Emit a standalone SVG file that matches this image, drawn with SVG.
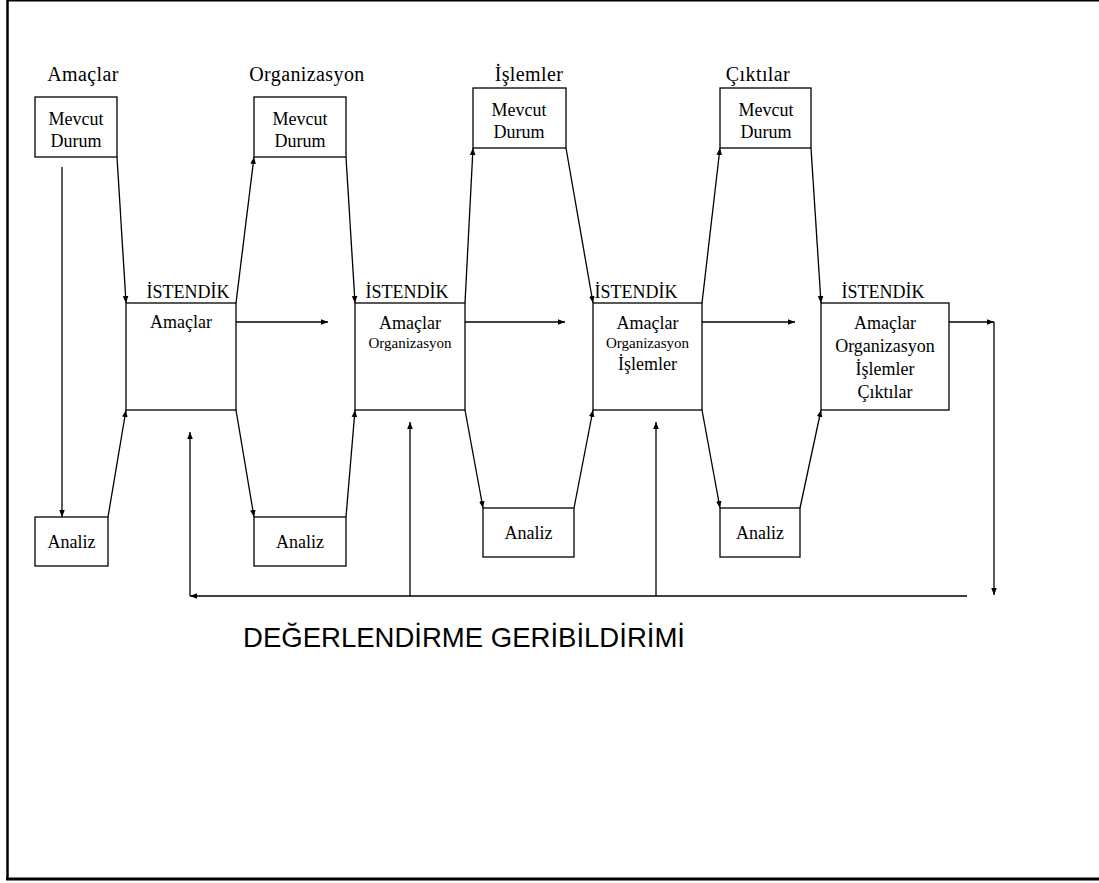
<svg xmlns="http://www.w3.org/2000/svg" width="1099" height="883" viewBox="0 0 1099 883">
<style>
.bx{fill:#fff;stroke:#000;stroke-width:1.3}
.t{font-family:"Liberation Serif","Times New Roman",serif;fill:#000;text-anchor:middle}
.lbl{font-size:20px;letter-spacing:0.4px}
.in{font-size:18px}
.sm{font-size:15px}
.c{stroke:#000;stroke-width:1.3;fill:none}
.big{font-family:"Liberation Sans",Arial,sans-serif;font-size:28px;fill:#000}
</style>
<defs>
<marker id="ah" viewBox="0 0 10 10" refX="10" refY="5" markerWidth="7" markerHeight="7" markerUnits="userSpaceOnUse" orient="auto">
<path d="M0,1 L10,5 L0,9 z" fill="#000"/>
</marker>
</defs>
<rect width="1099" height="883" fill="#fff"/>
<g id="frame">
<line x1="7" y1="0.7" x2="1099" y2="0.7" stroke="#000" stroke-width="1.5"/>
<line x1="7.5" y1="0" x2="7.5" y2="880" stroke="#000" stroke-width="2.5"/>
<line x1="6" y1="879" x2="1099" y2="879" stroke="#000" stroke-width="3"/>
</g>
<g id="labels">
<text class="t lbl" x="83" y="81">Amaçlar</text>
<text class="t lbl" x="307" y="81">Organizasyon</text>
<text class="t lbl" x="529" y="81">İşlemler</text>
<text class="t lbl" x="758" y="81">Çıktılar</text>
</g>
<g id="mevcut1"><rect class="bx" x="35" y="97" width="82" height="60"/><text class="t in" x="76" y="125">Mevcut</text><text class="t in" x="76" y="147">Durum</text></g>
<g id="mevcut2"><rect class="bx" x="254" y="97" width="92" height="60"/><text class="t in" x="300" y="125">Mevcut</text><text class="t in" x="300" y="147">Durum</text></g>
<g id="mevcut3"><rect class="bx" x="473" y="88" width="93" height="60"/><text class="t in" x="519" y="116">Mevcut</text><text class="t in" x="519" y="138">Durum</text></g>
<g id="mevcut4"><rect class="bx" x="720" y="88" width="91" height="60"/><text class="t in" x="766" y="116">Mevcut</text><text class="t in" x="766" y="138">Durum</text></g>
<g id="analiz1"><rect class="bx" x="35" y="517" width="73" height="49"/><text class="t in" x="71.5" y="548">Analiz</text></g>
<g id="analiz2"><rect class="bx" x="254" y="517" width="92" height="49"/><text class="t in" x="300" y="548">Analiz</text></g>
<g id="analiz3"><rect class="bx" x="483" y="508" width="91" height="49"/><text class="t in" x="528.5" y="539">Analiz</text></g>
<g id="analiz4"><rect class="bx" x="720" y="508" width="80" height="49"/><text class="t in" x="760" y="539">Analiz</text></g>
<g id="istendik1"><text class="t in" x="188" y="298">İSTENDİK</text><rect class="bx" x="126" y="303" width="110" height="107"/><text class="t in" x="181" y="328">Amaçlar</text></g>
<g id="istendik2"><text class="t in" x="407" y="298">İSTENDİK</text><rect class="bx" x="355" y="303" width="110" height="107"/><text class="t in" x="410" y="329">Amaçlar</text><text class="t sm" x="410" y="348">Organizasyon</text></g>
<g id="istendik3"><text class="t in" x="636" y="298">İSTENDİK</text><rect class="bx" x="593" y="303" width="109" height="107"/><text class="t in" x="647.5" y="329">Amaçlar</text><text class="t sm" x="647.5" y="348">Organizasyon</text><text class="t in" x="647.5" y="370">İşlemler</text></g>
<g id="istendik4"><text class="t in" x="883" y="298">İSTENDİK</text><rect class="bx" x="821" y="303" width="128" height="107"/><text class="t in" x="885" y="329">Amaçlar</text><text class="t in" x="885" y="352">Organizasyon</text><text class="t in" x="885" y="375">İşlemler</text><text class="t in" x="885" y="398">Çıktılar</text></g>
<g id="connectors">
<line class="c" x1="62" y1="167" x2="62" y2="517" marker-end="url(#ah)"/>
<line class="c" x1="117" y1="157" x2="126" y2="303" marker-end="url(#ah)"/>
<line class="c" x1="108" y1="517" x2="126" y2="410" marker-end="url(#ah)"/>
<line class="c" x1="236" y1="303" x2="254" y2="157" marker-end="url(#ah)"/>
<line class="c" x1="236" y1="410" x2="254" y2="517" marker-end="url(#ah)"/>
<line class="c" x1="346" y1="157" x2="355" y2="303" marker-end="url(#ah)"/>
<line class="c" x1="346" y1="517" x2="355" y2="410" marker-end="url(#ah)"/>
<line class="c" x1="465" y1="303" x2="473" y2="148" marker-end="url(#ah)"/>
<line class="c" x1="465" y1="410" x2="483" y2="508" marker-end="url(#ah)"/>
<line class="c" x1="566" y1="148" x2="593" y2="303" marker-end="url(#ah)"/>
<line class="c" x1="574" y1="508" x2="593" y2="410" marker-end="url(#ah)"/>
<line class="c" x1="702" y1="303" x2="720" y2="148" marker-end="url(#ah)"/>
<line class="c" x1="702" y1="410" x2="720" y2="508" marker-end="url(#ah)"/>
<line class="c" x1="811" y1="148" x2="821" y2="303" marker-end="url(#ah)"/>
<line class="c" x1="800" y1="508" x2="821" y2="410" marker-end="url(#ah)"/>
<line class="c" x1="236" y1="322" x2="328" y2="322" marker-end="url(#ah)"/>
<line class="c" x1="465" y1="322" x2="565" y2="322" marker-end="url(#ah)"/>
<line class="c" x1="702" y1="322" x2="795" y2="322" marker-end="url(#ah)"/>
<line class="c" x1="949" y1="322" x2="994" y2="322" marker-end="url(#ah)"/>
<line class="c" x1="994" y1="322" x2="994" y2="595" marker-end="url(#ah)"/>
<line class="c" x1="967" y1="596" x2="190" y2="596" marker-end="url(#ah)"/>
<line class="c" x1="190" y1="596" x2="190" y2="432" marker-end="url(#ah)"/>
<line class="c" x1="410" y1="596" x2="410" y2="422" marker-end="url(#ah)"/>
<line class="c" x1="656" y1="596" x2="656" y2="422" marker-end="url(#ah)"/>
</g>
<text class="big" x="243" y="647" textLength="442" lengthAdjust="spacingAndGlyphs">DEĞERLENDİRME GERİBİLDİRİMİ</text>
</svg>
